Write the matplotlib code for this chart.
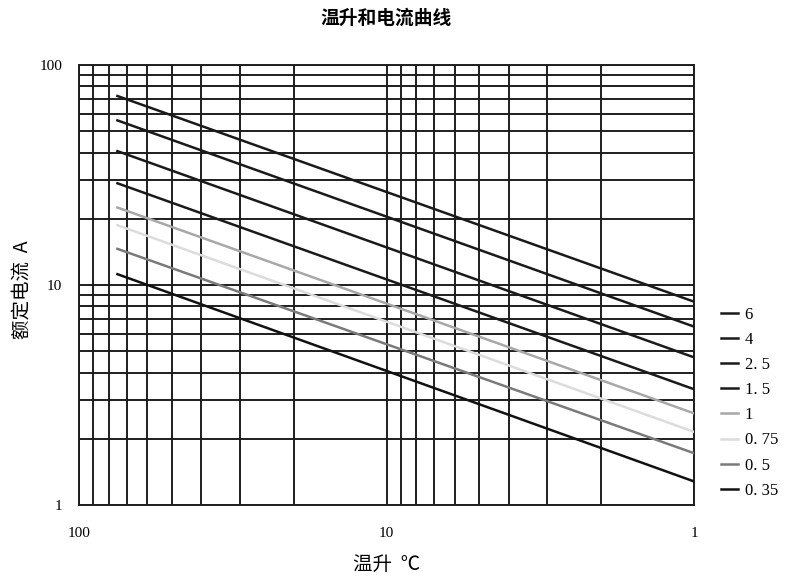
import numpy as np
import matplotlib
matplotlib.use('Agg')
import matplotlib.pyplot as plt
from matplotlib.ticker import LogLocator, NullFormatter, FixedLocator, FixedFormatter

plt.rcParams['font.family'] = ['Noto Sans CJK SC', 'DejaVu Sans']

# --------- Data ---------
wire_sizes = ['6', '4', '2. 5', '1. 5', '1', '0. 75', '0. 5', '0. 35']
temp_rise = [75, 1]  # start / end of each line, degC
current_start = [72.3, 56.0, 40.6, 29.0, 22.5, 18.7, 14.6, 11.2]
current_end = [8.4, 6.47, 4.69, 3.36, 2.61, 2.15, 1.72, 1.28]
line_colors = ['#1a1a1a', '#1a1a1a', '#1a1a1a', '#1a1a1a',
               '#a8a8a8', '#dcdcdc', '#7a7a7a', '#111111']

tick_vals = [1, 10, 100]
tick_text = ['1', '10', '100']

# --------- Plot ---------
fig = plt.figure(figsize=(7.87, 5.83), dpi=100)
ax = fig.add_axes([79 / 787, 1 - 505 / 583, 615 / 787, 440 / 583])

ax.set_xscale('log')
ax.set_yscale('log')
ax.set_xlim(100, 1)
ax.set_ylim(1, 100)

for name, y0, y1, c in zip(wire_sizes, current_start, current_end, line_colors):
    ax.plot(temp_rise, [y0, y1], color=c, lw=1.8, label=name, zorder=3)

for axis in (ax.xaxis, ax.yaxis):
    axis.set_major_locator(FixedLocator(tick_vals))
    axis.set_major_formatter(FixedFormatter(tick_text))
    axis.set_minor_locator(LogLocator(base=10, subs=np.arange(2, 10)))
    axis.set_minor_formatter(NullFormatter())

ax.grid(True, which='both', color='#1e1e1e', lw=1.4, zorder=1)
ax.tick_params(which='both', length=0)
ax.tick_params(axis='x', pad=16)
ax.tick_params(axis='y', pad=12)
for lab in ax.get_xticklabels() + ax.get_yticklabels():
    lab.set_family('Liberation Serif')
    lab.set_fontsize(11)
for s in ax.spines.values():
    s.set_color('#1e1e1e')
    s.set_linewidth(1.4)

ax.set_title('温升和电流曲线', fontsize=13.5, fontweight='bold', pad=30)
ax.set_xlabel('温升  ℃', fontsize=14, labelpad=10)
ax.set_ylabel('额定电流  A', fontsize=14)
ax.yaxis.set_label_coords(-0.076, 0.49)

leg = ax.legend(loc='upper left', bbox_to_anchor=(1.02, 0.485), frameon=False,
                handlelength=1.0, handletextpad=0.4, labelspacing=0.55,
                prop={'family': 'Liberation Serif', 'size': 12})

fig.savefig('out.png', dpi=100)
